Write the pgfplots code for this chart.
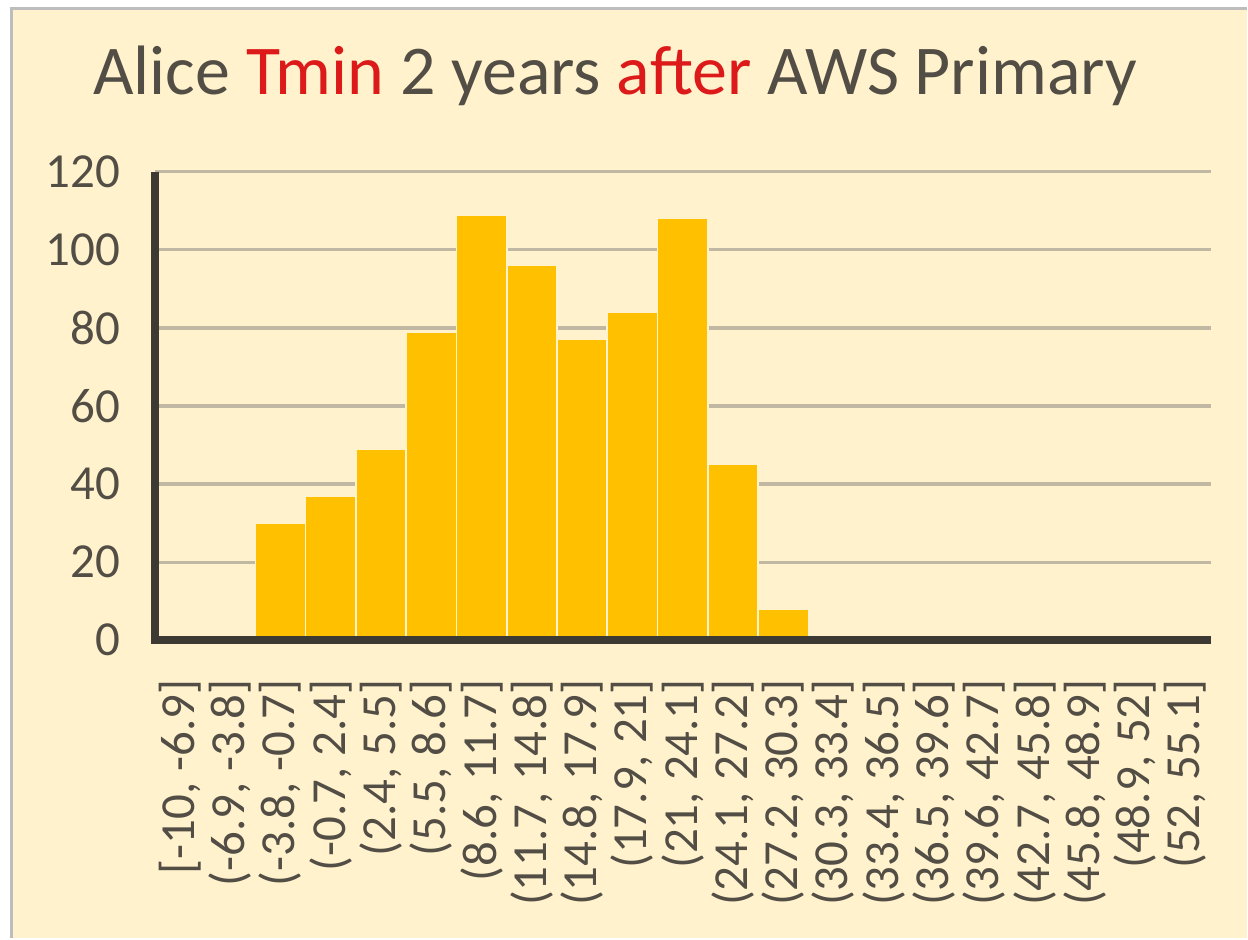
\documentclass[border=0pt]{standalone}
\usepackage{pgfplots}
\pgfplotsset{compat=1.18}
\usepackage{fontspec}
\setmainfont{Carlito}
\definecolor{bgcream}{HTML}{FFF2CC}
\definecolor{barcol}{HTML}{FFC000}
\definecolor{txtcol}{HTML}{524D45}
\definecolor{axcol}{HTML}{3D3A33}
\definecolor{gridcol}{HTML}{C0B8A2}
\definecolor{bordercol}{HTML}{BDBDBD}
\definecolor{titlered}{HTML}{DC1A1A}
\begin{document}
\begin{tikzpicture}
\fill[white] (0,0) rectangle (624bp,469.5bp);
\fill[bgcream] (6bp,0) rectangle (624bp,465bp);
\draw[bordercol, line width=1.5bp] (6bp,0) -- (6bp,465bp) -- (624bp,465bp);
\node[anchor=base, font=\fontsize{35bp}{40bp}\selectfont, text=txtcol, inner sep=0pt] at (308bp,422bp)
  {Alice \textcolor{titlered}{Tmin} 2 years \textcolor{titlered}{after} AWS Primary};
\begin{axis}[
  at={(77.5bp,149bp)}, anchor=south west,
  scale only axis, width=528.5bp, height=234.5bp,
  xmin=-0.5, xmax=20.5, ymin=0, ymax=120,
  clip=false,
  ytick={0,20,...,120},
  xtick={0,...,20},
  xticklabels={{[-10, -6.9]},{(-6.9, -3.8]},{(-3.8, -0.7]},{(-0.7, 2.4]},{(2.4, 5.5]},{(5.5, 8.6]},{(8.6, 11.7]},{(11.7, 14.8]},{(14.8, 17.9]},{(17.9, 21]},{(21, 24.1]},{(24.1, 27.2]},{(27.2, 30.3]},{(30.3, 33.4]},{(33.4, 36.5]},{(36.5, 39.6]},{(39.6, 42.7]},{(42.7, 45.8]},{(45.8, 48.9]},{(48.9, 52]},{(52, 55.1]}},
  /pgf/number format/assume math mode=true,
  tick label style={font=\fontsize{24.5bp}{27bp}\selectfont, text=txtcol},
  yticklabel style={xshift=-14bp},
  xticklabel style={rotate=90, anchor=east},
  xticklabel shift=16bp,
  major tick length=0pt,
  axis x line*=bottom, axis y line*=left,
  axis line style={-, color=axcol, line width=4bp},
  ymajorgrids, grid style={line width=1.6bp, color=gridcol},
  ybar, bar width=1,
]
\addplot[fill=barcol, draw=white!80!barcol, line width=0.8bp] coordinates {
(0,0) (1,0) (2,30) (3,37) (4,49) (5,79) (6,109) (7,96) (8,77) (9,84) (10,108)
(11,45) (12,8) (13,0) (14,0) (15,0) (16,0) (17,0) (18,0) (19,0) (20,0)};
\draw[axcol, line width=3.8bp, line join=miter, line cap=butt]
  (rel axis cs:0,1) -- (rel axis cs:0,0) -- (rel axis cs:1,0);
\end{axis}
\end{tikzpicture}
\end{document}
